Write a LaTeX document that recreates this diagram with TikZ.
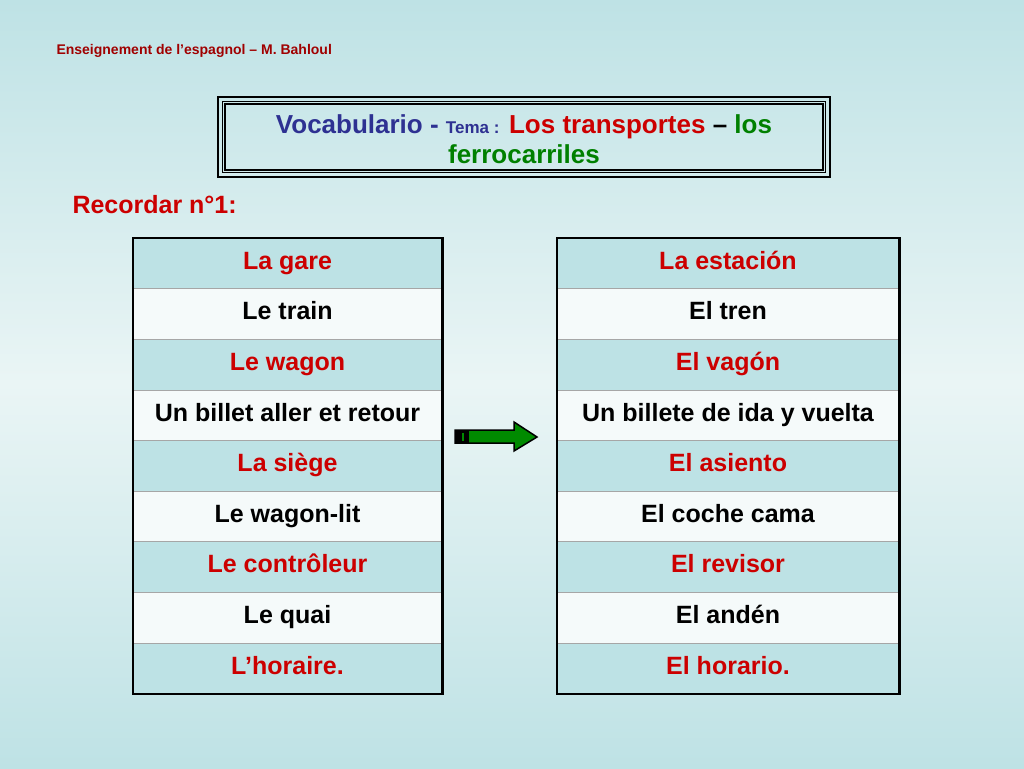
\documentclass[tikz,border=0pt]{standalone}
\usepackage{fontspec}
\setmainfont{Liberation Sans}
\definecolor{bgb}{HTML}{BEE2E5}
\definecolor{bgw}{HTML}{EAF5F5}
\definecolor{rowb}{HTML}{BDE2E5}
\definecolor{roww}{HTML}{F5FAFA}
\definecolor{myred}{HTML}{CC0000}
\definecolor{dred}{HTML}{A00000}
\definecolor{myblue}{HTML}{2E3192}
\definecolor{mygreen}{HTML}{008000}
\definecolor{agreen}{HTML}{008A00}
\tikzset{x=1pt,y=-1pt,
 cellb/.style={draw=gray!70,line width=0.6pt,fill=rowb,minimum height=50.6pt,inner sep=0pt,text height=17pt,text depth=5pt,font=\bfseries\fontsize{25}{28}\selectfont,text=myred},
 cellw/.style={cellb,fill=roww,text=black}}
\begin{document}
\begin{tikzpicture}
\useasboundingbox (0,0) rectangle (1024,768);
\shade[top color=bgb,bottom color=bgb,middle color=bgw] (0,0) rectangle (1024,768);
\node[anchor=west,text=dred,font=\bfseries\fontsize{14}{16}\selectfont] (hdr) at (53,51) {Enseignement de l’espagnol – M. Bahloul};
% title box
\draw[line width=2.2pt] (218,97) rectangle (830,177);
\draw[line width=0.8pt] (222.5,101.5) rectangle (825.5,172.5);
\draw[line width=1.2pt] (225,104) rectangle (823,170);
\node[align=center,font=\bfseries\fontsize{26}{30}\selectfont] (title) at (524,139) {\textcolor{myblue}{Vocabulario - {\fontsize{17}{20}\selectfont Tema :}} \textcolor{myred}{Los transportes} – \textcolor{mygreen}{los}\\\textcolor{mygreen}{ferrocarriles}};
\node[anchor=west,text=myred,font=\bfseries\fontsize{25}{28}\selectfont] (rec) at (69,205) {Recordar n°1:};
% tables
\foreach \t [count=\i] in {La gare,Le train,Le wagon,Un billet aller et retour,La siège,Le wagon-lit,Le contrôleur,Le quai,L’horaire.}{
  \pgfmathsetmacro\yy{238+(\i-0.5)*50.6}
  \ifodd\i \node[cellb,minimum width=309pt] (l\i) at (287.5,\yy) {\t};
  \else \node[cellw,minimum width=309pt] (l\i) at (287.5,\yy) {\t}; \fi
}
\foreach \t [count=\i] in {La estación,El tren,El vagón,Un billete de ida y vuelta,El asiento,El coche cama,El revisor,El andén,El horario.}{
  \pgfmathsetmacro\yy{238+(\i-0.5)*50.6}
  \ifodd\i \node[cellb,minimum width=342pt] (r\i) at (728,\yy) {\t};
  \else \node[cellw,minimum width=342pt] (r\i) at (728,\yy) {\t}; \fi
}
\draw[line width=2.4pt] (l1.north west) rectangle (l9.south east);
\draw[line width=2.4pt] (r1.north west) rectangle (r9.south east);
% arrow
\filldraw[fill=agreen,draw=black,line width=1.5pt] (455,430) -- (514,430) -- (514,422) -- (537,437) -- (514,451) -- (514,443) -- (455,443) -- cycle;
\fill[black] (455,430) rectangle (469,443);
\fill[agreen] (462,433) rectangle (464,441);
\end{tikzpicture}
\end{document}
